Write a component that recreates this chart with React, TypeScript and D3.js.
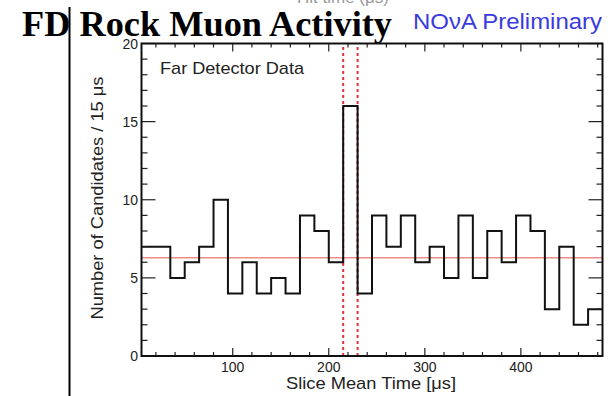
import React from "react";
import * as d3 from "d3";

const binStart = 5;
const binWidth = 15;
const counts = [7, 7, 5, 6, 7, 10, 4, 6, 4, 5, 4, 9, 8, 6, 16, 4, 9, 7, 9, 6, 7, 5, 9, 5, 8, 6, 9, 8, 3, 7, 2, 3];
const meanLevel = 6.29;
const signalWindow = [215, 230];
const xMajorTicks = [100, 200, 300, 400];
const yMajorTicks = [0, 5, 10, 15, 20];

const W = 611;
const H = 396;
const SANS = "'Liberation Sans', Arial, Helvetica, sans-serif";

export default function App() {
  const xDomain: [number, number] = [binStart, binStart + counts.length * binWidth];
  const x = d3.scaleLinear().domain(xDomain).range([141.5, 602.5]);
  const y = d3.scaleLinear().domain([0, 20]).range([356, 43.5]);

  const pts: [number, number][] = counts.map((c, i) => [binStart + i * binWidth, c]);
  pts.push([xDomain[1], counts[counts.length - 1]]);
  const line = d3
    .line<[number, number]>()
    .x((d) => x(d[0]))
    .y((d) => y(d[1]))
    .curve(d3.curveStepAfter);

  const yMinor = d3.range(0, 21, 1);
  const xMinor = d3.range(20, 485, 20);
  const x0 = x.range()[0];
  const x1 = x.range()[1];
  const y0 = y.range()[0];
  const y1 = y.range()[1];

  return (
    <svg width={W} height={H} style={{ position: "absolute", left: 0, top: 0, background: "#fff" }}>
      <rect x={0} y={0} width={W} height={H} fill="#fff" />
      {/* cropped text at top */}
      <text x={343} y={3} fontFamily={SANS} fontSize={17} fill="#9a9a9a" textAnchor="middle">
        Hit time (μs)
      </text>
      {/* title */}
      <text x={22} y={36} fontFamily="'Liberation Serif', 'Times New Roman', serif" fontWeight="bold" fontSize={36} fill="#000" textLength={370} lengthAdjust="spacingAndGlyphs">
        FD Rock Muon Activity
      </text>
      <line x1={69.5} x2={69.5} y1={7} y2={H} stroke="#000" strokeWidth={2} />
      <text x={413} y={29} fontFamily={SANS} fontSize={22} fill="#3a3ae0" textLength={189} lengthAdjust="spacingAndGlyphs">
        NOνA Preliminary
      </text>

      {/* reference lines */}
      <line x1={x0} x2={x1} y1={y(meanLevel)} y2={y(meanLevel)} stroke="#ec8c8c" strokeWidth={1.6} />
      {signalWindow.map((v) => (
        <line key={v} x1={x(v)} x2={x(v)} y1={y0} y2={y1} stroke="#e8303a" strokeWidth={2} strokeDasharray="3,3" />
      ))}

      {/* histogram */}
      <path d={line(pts) || ""} fill="none" stroke="#111" strokeWidth={2} />

      {/* ticks */}
      {yMinor.map((v) => {
        const len = v % 5 === 0 ? 14 : 6;
        return (
          <g key={"y" + v}>
            <line x1={x0} x2={x0 + len} y1={y(v)} y2={y(v)} stroke="#222" strokeWidth={1.2} />
            <line x1={x1} x2={x1 - len} y1={y(v)} y2={y(v)} stroke="#222" strokeWidth={1.2} />
          </g>
        );
      })}
      {xMinor.map((v) => {
        const len = v % 100 === 0 ? 8 : 4;
        return (
          <g key={"x" + v}>
            <line x1={x(v)} x2={x(v)} y1={y0} y2={y0 - len} stroke="#222" strokeWidth={1.2} />
            <line x1={x(v)} x2={x(v)} y1={y1} y2={y1 + len} stroke="#222" strokeWidth={1.2} />
          </g>
        );
      })}

      {/* frame */}
      <rect x={x0} y={y1} width={x1 - x0} height={y0 - y1} fill="none" stroke="#111" strokeWidth={2} />

      {/* tick labels */}
      {yMajorTicks.map((v) => (
        <text key={"yl" + v} x={138} y={y(v)} dy="0.36em" textAnchor="end" fontFamily={SANS} fontSize={14} fill="#222">
          {v}
        </text>
      ))}
      {xMajorTicks.map((v) => (
        <text key={"xl" + v} x={x(v)} y={372} textAnchor="middle" fontFamily={SANS} fontSize={14} fill="#222">
          {v}
        </text>
      ))}

      {/* axis titles */}
      <text x={371} y={389} textAnchor="middle" fontFamily={SANS} fontSize={17} fill="#222" textLength={170} lengthAdjust="spacingAndGlyphs">
        Slice Mean Time [μs]
      </text>
      <text transform={`translate(103,198) rotate(-90)`} textAnchor="middle" fontFamily={SANS} fontSize={17} fill="#222" textLength={243} lengthAdjust="spacingAndGlyphs">
        Number of Candidates / 15 μs
      </text>
      <text x={160} y={73.5} fontFamily={SANS} fontSize={17} fill="#222" textLength={144} lengthAdjust="spacingAndGlyphs">
        Far Detector Data
      </text>
    </svg>
  );
}
